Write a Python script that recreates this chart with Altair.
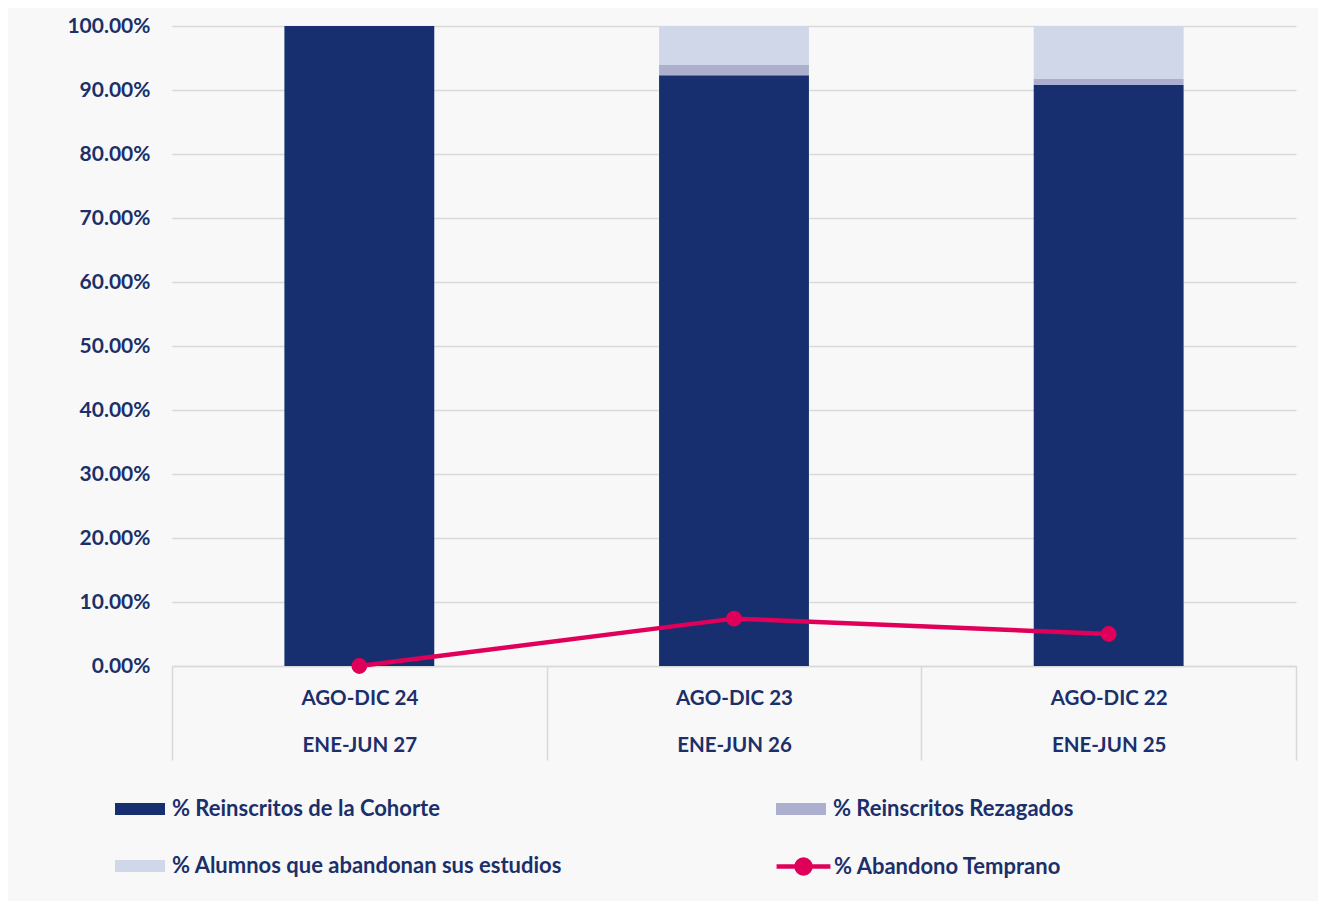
import altair as alt
import pandas as pd

categories = ["AGO-DIC 24|ENE-JUN 27", "AGO-DIC 23|ENE-JUN 26", "AGO-DIC 22|ENE-JUN 25"]
series_bars = ["% Reinscritos de la Cohorte", "% Reinscritos Rezagados", "% Alumnos que abandonan sus estudios"]
cohorte = [1.000, 0.923, 0.908]
rezagados = [0.000, 0.016, 0.009]
abandonan = [0.000, 0.061, 0.083]
line_name = "% Abandono Temprano"
temprano = [0.000, 0.074, 0.050]

bar_colors = ["#172F6E", "#ADAFCF", "#CFD7E8"]
line_color = "#E0005A"
text_color = "#1B2F6B"
font = "Lato"

rows = []
for i, c in enumerate(categories):
    for k, (s, vals) in enumerate(zip(series_bars, [cohorte, rezagados, abandonan])):
        rows.append({"cat": c, "serie": s, "value": vals[i], "ord": k})
bars_df = pd.DataFrame(rows)
line_df = pd.DataFrame({"cat": categories, "serie": [line_name] * 3, "value": temprano})

# legend grid is filled column by column: Cohorte, Alumnos | Rezagados
legend_order = [series_bars[0], series_bars[2], series_bars[1]]
legend_colors = [bar_colors[0], bar_colors[2], bar_colors[1]]

xenc = alt.X(
    "cat:N",
    sort=categories,
    title=None,
    scale=alt.Scale(paddingInner=0, paddingOuter=0),
    axis=alt.Axis(
        labelAngle=0,
        labelExpr="split(datum.label, '|')",
        labelLineHeight=47,
        labelFontSize=20.5,
        labelFont=font,
        labelFontWeight="bold",
        labelColor=text_color,
        labelPadding=-72,
        labelBaseline="top",
        tickBand="extent",
        tickSize=94,
        tickColor="#d9d9d9",
        tickWidth=1.5,
        domainColor="#d9d9d9",
        domainWidth=1.5,
        grid=False,
    ),
)

yscale = alt.Scale(domain=[0, 1], nice=False)
yaxis = alt.Axis(
    format=".2%",
    values=[i / 10 for i in range(11)],
    labelFontSize=21,
    labelFont=font,
    labelFontWeight="bold",
    labelColor=text_color,
    labelPadding=22,
    ticks=False,
    domain=False,
    gridColor="#d9d9d9",
    gridWidth=1.5,
    title=None,
)

sym_rect = "M-1,-0.24H1V0.24H-1Z"
sym_line = "M-1,0H1M-0.26,0A0.26,0.26 0 1,0 0.26,0A0.26,0.26 0 1,0 -0.26,0Z"

bars = alt.Chart(bars_df).mark_bar(width=alt.RelativeBandSize(0.4)).encode(
    x=xenc,
    y=alt.Y("value:Q", stack="zero", scale=yscale, axis=yaxis),
    order=alt.Order("ord:Q", sort="ascending"),
    color=alt.Color(
        "serie:N",
        scale=alt.Scale(domain=legend_order, range=legend_colors),
        legend=alt.Legend(
            title=None,
            orient="none",
            legendX=-57,
            legendY=758,
            columns=2,
            columnPadding=213,
            rowPadding=21,
            symbolType=sym_rect,
            symbolSize=2500,
            symbolStrokeWidth=0,
            symbolOpacity=1,
            labelFontSize=22,
            labelFont=font,
            labelFontWeight="bold",
            labelColor=text_color,
            labelLimit=600,
            labelOffset=7,
            padding=0,
        ),
    ),
)

line = alt.Chart(line_df).mark_line(
    strokeWidth=4.5, point=alt.OverlayMarkDef(filled=True, size=190, color=line_color)
).encode(
    x=alt.X("cat:N", sort=categories),
    y=alt.Y("value:Q", scale=yscale),
    stroke=alt.Stroke(
        "serie:N",
        scale=alt.Scale(domain=[line_name], range=[line_color]),
        legend=alt.Legend(
            title=None,
            orient="none",
            legendX=602,
            legendY=811,
            symbolType=sym_line,
            symbolSize=2900,
            symbolStrokeWidth=4.5,
            symbolFillColor=line_color,
            symbolStrokeColor=line_color,
            labelFontSize=22,
            labelFont=font,
            labelFontWeight="bold",
            labelColor=text_color,
            labelLimit=600,
            labelOffset=1,
            padding=0,
        ),
    ),
)

chart = (
    alt.layer(bars, line)
    .resolve_scale(color="independent")
    .properties(
        width=1124,
        height=640,
        autosize=alt.AutoSizeParams(type="none"),
        padding={"left": 164, "top": 18, "right": 22, "bottom": 235},
        background="#f8f8f8",
    )
    .configure_view(stroke=None)
)

chart.save("out.html", embed_options={"renderer": "svg", "actions": False})
